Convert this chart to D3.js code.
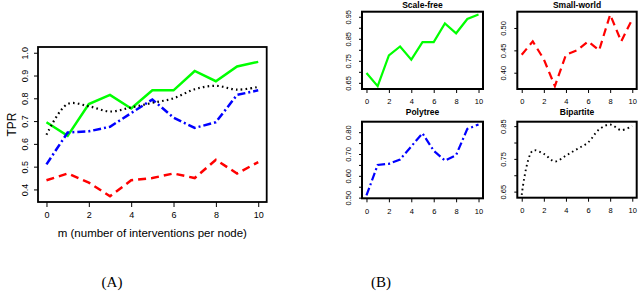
<!DOCTYPE html>
<html>
<head>
<meta charset="utf-8">
<script src="https://cdn.jsdelivr.net/npm/d3@7"></script>
<style>
  body { margin: 0; background: #fff; }
  svg { display: block; }
  text { font-family: "Liberation Sans", Arial, sans-serif; fill: #000; }
</style>
</head>
<body>
<svg width="640" height="291"></svg>
<script>
// données
let m = [0, 1, 2, 3, 4, 5, 6, 7, 8, 9, 10];
let scaleFree  = [0.695, 0.635, 0.775, 0.815, 0.755, 0.835, 0.835, 0.92, 0.875, 0.94, 0.96];
let smallWorld = [0.44, 0.47, 0.43, 0.37, 0.44, 0.45, 0.47, 0.45, 0.53, 0.47, 0.52];
let polytree   = [0.51, 0.65, 0.655, 0.675, 0.735, 0.795, 0.715, 0.67, 0.695, 0.815, 0.835];
let bipartite  = [0.64, 0.775, 0.765, 0.742, 0.76, 0.78, 0.80, 0.84, 0.855, 0.838, 0.85];
let xTicks = [0, 2, 4, 6, 8, 10];
let yTicksA = [0.4, 0.5, 0.6, 0.7, 0.8, 0.9, 1.0];
let ylimA = [0.37, 1.0];

let svg = d3.select("svg");

// styles des séries
let series = [
  {nom: "Scale-free", val: scaleFree, couleur: "#00ff00", dash: null, courbe: d3.curveLinear,
   ticks: [0.65, 0.70, 0.75, 0.80, 0.85, 0.90, 0.95], labels: [0.65, 0.75, 0.85, 0.95],
   box: {x0: 362, x1: 483, y0: 11.7, y1: 89}, titreY: 7.5},
  {nom: "Small-world", val: smallWorld, couleur: "#ff0000", dash: "8,5", courbe: d3.curveLinear,
   ticks: [0.40, 0.45, 0.50], labels: [0.40, 0.45, 0.50],
   box: {x0: 517.3, x1: 636.7, y0: 11.7, y1: 89}, titreY: 7.5},
  {nom: "Polytree", val: polytree, couleur: "#0000ff", dash: "8,3,2,3", courbe: d3.curveLinear,
   ticks: [0.50, 0.55, 0.60, 0.65, 0.70, 0.75, 0.80], labels: [0.50, 0.60, 0.70, 0.80],
   box: {x0: 362, x1: 483, y0: 121.7, y1: 198.3}, titreY: 115},
  {nom: "Bipartite", val: bipartite, couleur: "#000000", dash: "1.6,3.2", courbe: d3.curveCatmullRom,
   ticks: [0.65, 0.70, 0.75, 0.80, 0.85], labels: [0.65, 0.75, 0.85],
   box: {x0: 517.3, x1: 636.7, y0: 121.7, y1: 197.7}, titreY: 115}
];

// marge de 4% comme R
function etendre(lim) {
  let p = (lim[1] - lim[0]) * 0.04;
  return [lim[0] - p, lim[1] + p];
}

function dessinerLigne(g, s, x, y, largeur) {
  let ligne = d3.line()
    .x((d, i) => x(m[i]))
    .y(d => y(d))
    .curve(s.courbe);
  g.append("path")
    .datum(s.val)
    .attr("d", ligne)
    .attr("fill", "none")
    .attr("stroke", s.couleur)
    .attr("stroke-width", s.nom == "Bipartite" ? largeur - 0.3 : largeur)
    .attr("stroke-dasharray", s.dash);
}

// I. Panneau (A)
let boxA = {x0: 38, x1: 266.7, y0: 47, y1: 202};
let xA = d3.scaleLinear().domain(etendre([0, 10])).range([boxA.x0, boxA.x1]);
let yA = d3.scaleLinear().domain(etendre(ylimA)).range([boxA.y1, boxA.y0]);

let gA = svg.append("g");

let axeXA = gA.append("g")
  .attr("transform", `translate(0,${boxA.y1})`)
  .call(d3.axisBottom(xA).tickValues(xTicks).tickSize(5).tickPadding(5).tickFormat(d3.format("d")));
axeXA.select(".domain").remove();
axeXA.selectAll("text").attr("font-size", 9).attr("font-family", "Liberation Sans, Arial, sans-serif");

let axeYA = gA.append("g")
  .attr("transform", `translate(${boxA.x0},0)`)
  .call(d3.axisLeft(yA).tickValues(yTicksA).tickSize(4).tickFormat(d3.format(".1f")));
axeYA.select(".domain").remove();
axeYA.selectAll("text")
  .attr("font-size", 9)
  .attr("font-family", "Liberation Sans, Arial, sans-serif")
  .attr("transform", "rotate(-90)")
  .attr("x", 0).attr("y", -10.5).attr("dy", 0)
  .attr("text-anchor", "middle")
  .attr("fill", "#333");

series.forEach(s => dessinerLigne(gA, s, xA, yA, 2.5));

gA.append("rect")
  .attr("x", boxA.x0).attr("y", boxA.y0)
  .attr("width", boxA.x1 - boxA.x0).attr("height", boxA.y1 - boxA.y0)
  .attr("fill", "none").attr("stroke", "#000").attr("stroke-width", 1.8);

gA.append("text")
  .attr("x", (boxA.x0 + boxA.x1) / 2).attr("y", 237)
  .attr("text-anchor", "middle").attr("font-size", 11.5)
  .text("m (number of interventions per node)");

gA.append("text")
  .attr("transform", `translate(16,${(boxA.y0 + boxA.y1) / 2}) rotate(-90)`)
  .attr("text-anchor", "middle").attr("font-size", 12)
  .text("TPR");

// II. Panneaux (B)
series.forEach(function (s) {
  let b = s.box;
  let x = d3.scaleLinear().domain(etendre([0, 10])).range([b.x0, b.x1]);
  let y = d3.scaleLinear().domain(etendre(d3.extent(s.val))).range([b.y1, b.y0]);
  let g = svg.append("g");

  let ax = g.append("g")
    .attr("transform", `translate(0,${b.y1})`)
    .call(d3.axisBottom(x).tickValues(xTicks).tickSize(4).tickPadding(6).tickFormat(d3.format("d")));
  ax.select(".domain").remove();
  ax.selectAll("text").attr("font-size", 7.5).attr("font-family", "Liberation Sans, Arial, sans-serif");

  let ay = g.append("g")
    .attr("transform", `translate(${b.x0},0)`)
    .call(d3.axisLeft(y).tickValues(s.ticks).tickSize(3)
      .tickFormat(d => s.labels.some(l => Math.abs(l - d) < 1e-9) ? d3.format(".2f")(d) : ""));
  ay.select(".domain").remove();
  ay.selectAll("text")
    .attr("font-size", 7.5)
    .attr("font-family", "Liberation Sans, Arial, sans-serif")
    .attr("transform", "rotate(-90)")
    .attr("x", 0).attr("y", -11.5).attr("dy", 0)
    .attr("text-anchor", "middle")
    .attr("fill", "#333");

  dessinerLigne(g, s, x, y, 2.2);

  g.append("rect")
    .attr("x", b.x0).attr("y", b.y0)
    .attr("width", b.x1 - b.x0).attr("height", b.y1 - b.y0)
    .attr("fill", "none").attr("stroke", "#000").attr("stroke-width", 2);

  g.append("text")
    .attr("x", (b.x0 + b.x1) / 2).attr("y", s.titreY)
    .attr("text-anchor", "middle").attr("font-size", 8.5).attr("font-weight", "bold")
    .text(s.nom);
});

// III. Légendes (A) et (B)
svg.append("text")
  .attr("x", 112).attr("y", 287)
  .attr("text-anchor", "middle").attr("font-size", 15)
  .style("font-family", "'Liberation Serif', serif")
  .text("(A)");

svg.append("text")
  .attr("x", 381).attr("y", 287)
  .attr("text-anchor", "middle").attr("font-size", 15)
  .style("font-family", "'Liberation Serif', serif")
  .text("(B)");
</script>
</body>
</html>
